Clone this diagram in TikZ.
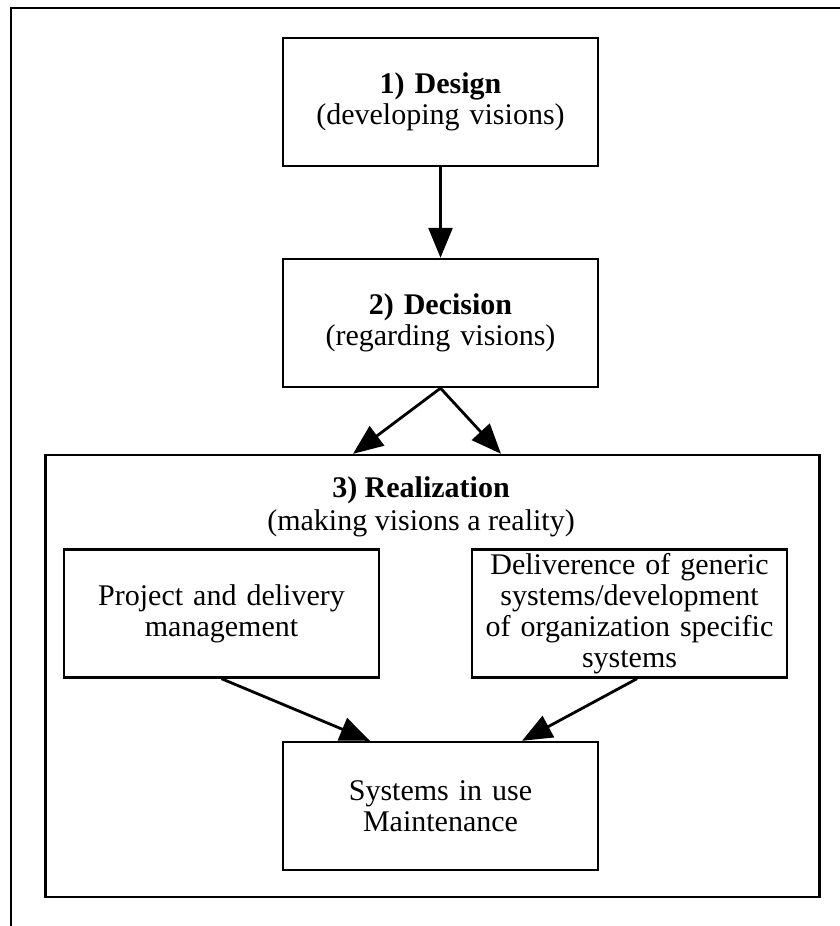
\documentclass[tikz,border=0pt]{standalone}
\usepackage{fontspec}
\setmainfont{Liberation Serif}
\usetikzlibrary{arrows.meta,calc}
\tikzset{
%Define standard arrow tip
>={Triangle[length=15pt,width=12pt]},
%Define style for the boxes
stage/.style={draw, line width=1.2pt, minimum width=157.5pt, minimum height=64pt, inner sep=0pt, text width=150pt, align=center, font=\fontsize{15pt}{15.5pt}\selectfont},
flow/.style={->, line width=1.4pt},
}
\begin{document}
\begin{tikzpicture}[x=0.5pt,y=-0.5pt]
    \useasboundingbox (0,0) rectangle (840,926);
    % Frame
    \draw[line width=1.2pt] (840,8) -- (11,8) -- (11,926);
    % Stages
    \node[stage] (design) at (440.5,102) {\textbf{1)\ Design}\\(developing visions)};
    \node[stage] (decision) at (440.5,323) {\textbf{2)\ Decision}\\(regarding visions)};
    \node[stage, minimum width=387pt, minimum height=221pt] (realization) at (432.5,676) {};
    \node[align=center, inner sep=0pt, font=\fontsize{15pt}{16.5pt}\selectfont] (realtitle) at (421,507) {\textbf{3)\ Realization}\\(making visions a reality)};
    \node[stage] (project) at (221.5,613.5) {Project and delivery\\management};
    \node[stage] (deliver) at (629.5,613.5) {Deliverence of generic\\systems/development\\of organization specific\\systems};
    \node[stage] (systems) at (440.5,806) {Systems in use\\Maintenance};
    % Arrows
    \draw[flow] (design) -- (decision);
    \draw[flow] (decision.south) -- ($(realization.north)+(-79.5,0)$);
    \draw[flow] (decision.south) -- ($(realization.north)+(68.5,0)$);
    \draw[flow] (project.south) -- ($(systems.north)+(-70.5,0)$);
    \draw[flow] ($(deliver.south)+(7.5,0)$) -- ($(systems.north)+(81.5,0)$);
\end{tikzpicture}
\end{document}
